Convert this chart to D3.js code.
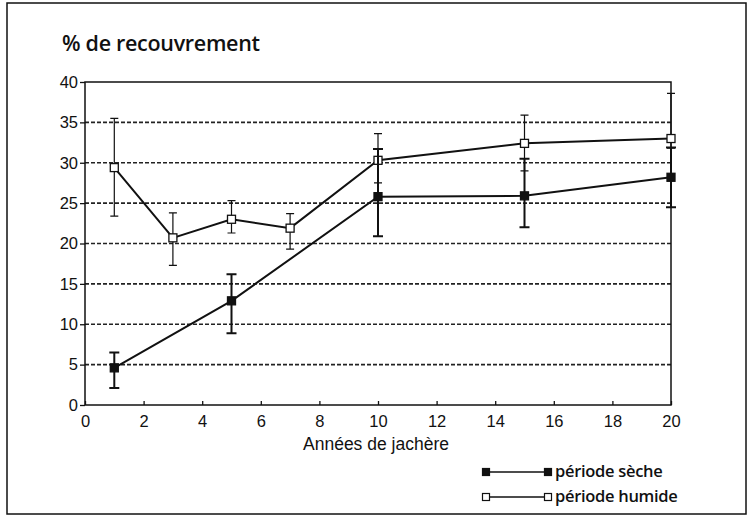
<!DOCTYPE html>
<html>
<head>
<meta charset="utf-8">
<script src="https://cdn.jsdelivr.net/npm/d3@7"></script>
<style>
  body { margin: 0; background: #fff; }
  svg text { fill: #111; }
</style>
</head>
<body>
<div id="chart"></div>
<script>
'use strict';

// Années de jachère
var yearsSeche = [1, 5, 10, 15, 20];
var valuesSeche = [4.6, 12.9, 25.8, 25.9, 28.2];
var lowSeche = [2.1, 8.9, 20.9, 22.0, 24.5];
var highSeche = [6.5, 16.2, 31.7, 30.5, 31.9];

var yearsHumide = [1, 3, 5, 7, 10, 15, 20];
var valuesHumide = [29.4, 20.7, 23.0, 21.9, 30.3, 32.4, 33.0];
var lowHumide = [23.4, 17.3, 21.3, 19.3, 27.5, 29.0, 31.8];
var highHumide = [35.5, 23.8, 25.3, 23.7, 33.6, 35.9, 38.6];

var xTicks = [0, 2, 4, 6, 8, 10, 12, 14, 16, 18, 20];
var yTicks = [0, 5, 10, 15, 20, 25, 30, 35, 40];
var gridValues = [5, 10, 15, 20, 25, 30, 35];

var seriesNames = ['période sèche', 'période humide'];

var W = 750, H = 518;
var margin = {top: 82, right: 79, bottom: 113, left: 85};
var width = W - margin.left - margin.right;
var height = H - margin.top - margin.bottom;

var svg = d3.select('#chart').append('svg')
  .attr('width', W)
  .attr('height', H);

// outer frame
svg.append('rect')
  .attr('x', 7).attr('y', 3)
  .attr('width', 739).attr('height', 511)
  .attr('fill', 'none').attr('stroke', '#111').attr('stroke-width', 1.5);

svg.append('text')
  .attr('x', 62).attr('y', 51)
  .attr('font-family', '"Open Sans", Lato, sans-serif')
  .attr('font-size', 21.5)
  .attr('font-weight', 600)
  .attr('letter-spacing', '-0.3')
  .text('% de recouvrement');

var g = svg.append('g')
  .attr('transform', 'translate(' + margin.left + ',' + margin.top + ')');

var x = d3.scaleLinear().domain([0, 20]).range([0, width]);
var y = d3.scaleLinear().domain([0, 40]).range([height, 0]);

// dashed grid
g.selectAll('.grid').data(gridValues).enter().append('line')
  .attr('class', 'grid')
  .attr('x1', 0).attr('x2', width)
  .attr('y1', function(d) { return y(d); })
  .attr('y2', function(d) { return y(d); })
  .attr('stroke', '#222').attr('stroke-width', 1.6)
  .attr('stroke-dasharray', '4,2');

// plot frame
g.append('rect')
  .attr('width', width).attr('height', height)
  .attr('fill', 'none').attr('stroke', '#111').attr('stroke-width', 1.5);

var yAxis = g.append('g')
  .call(d3.axisLeft(y).tickValues(yTicks).tickSize(5).tickPadding(2));
var xAxis = g.append('g')
  .attr('transform', 'translate(0,' + height + ')')
  .call(d3.axisBottom(x).tickValues(xTicks).tickSize(-4).tickPadding(6));

[xAxis, yAxis].forEach(function(a) {
  a.select('.domain').remove();
  a.selectAll('line').attr('stroke', '#111').attr('stroke-width', 1.3);
  a.selectAll('text')
    .attr('font-family', 'Arial, "Liberation Sans", sans-serif')
    .attr('font-size', 16.5)
    .attr('fill', '#111');
});
xAxis.selectAll('text').attr('dy', '0.95em');

svg.append('text')
  .attr('x', margin.left + x(10) - 2).attr('y', 450)
  .attr('text-anchor', 'middle')
  .attr('font-family', 'Arial, "Liberation Sans", sans-serif')
  .attr('font-size', 17.5)
  .text('Années de jachère');

function drawSeries(years, values, lows, highs, filled, capW) {
  var pts = years.map(function(d, i) {
    return {x: d, v: values[i], lo: lows[i], hi: highs[i]};
  });
  var grp = g.append('g');

  grp.selectAll('.err').data(pts).enter().append('path')
    .attr('d', function(d) {
      var cx = x(d.x);
      return 'M' + (cx - capW) + ',' + y(d.hi) + 'H' + (cx + capW) +
        'M' + cx + ',' + y(d.hi) + 'V' + y(d.lo) +
        'M' + (cx - capW) + ',' + y(d.lo) + 'H' + (cx + capW);
    })
    .attr('fill', 'none').attr('stroke', '#111')
    .attr('stroke-width', filled ? 2 : 1.2);

  var line = d3.line()
    .x(function(d) { return x(d.x); })
    .y(function(d) { return y(d.v); });

  grp.append('path')
    .datum(pts)
    .attr('d', line)
    .attr('fill', 'none').attr('stroke', '#111').attr('stroke-width', 2);

  grp.selectAll('.pt').data(pts).enter().append('rect')
    .attr('x', function(d) { return x(d.x) - 4; })
    .attr('y', function(d) { return y(d.v) - 4; })
    .attr('width', 8).attr('height', 8)
    .attr('fill', filled ? '#111' : '#fff')
    .attr('stroke', '#111').attr('stroke-width', 1.3);
}

drawSeries(yearsHumide, valuesHumide, lowHumide, highHumide, false, 4);
drawSeries(yearsSeche, valuesSeche, lowSeche, highSeche, true, 5);

// legend
var legend = svg.append('g');
seriesNames.forEach(function(name, i) {
  var ly = 472 + i * 25;
  var filled = i === 0;
  legend.append('line')
    .attr('x1', 486).attr('x2', 548)
    .attr('y1', ly).attr('y2', ly)
    .attr('stroke', '#111').attr('stroke-width', 1.6);
  [486, 548].forEach(function(lx) {
    legend.append('rect')
      .attr('x', lx - 3.5).attr('y', ly - 3.5)
      .attr('width', 7).attr('height', 7)
      .attr('fill', filled ? '#111' : '#fff')
      .attr('stroke', '#111').attr('stroke-width', 1.2);
  });
  legend.append('text')
    .attr('x', 555).attr('y', ly + 5)
    .attr('font-family', '"Open Sans", Lato, sans-serif')
    .attr('font-size', 16.5)
    .attr('font-weight', 600)
    .attr('letter-spacing', '-0.3')
    .text(name);
});
</script>
</body>
</html>
